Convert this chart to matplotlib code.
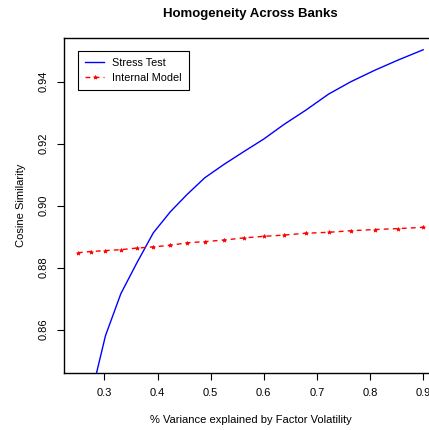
import matplotlib
matplotlib.use("Agg")
import matplotlib.pyplot as plt

plt.rcParams['font.family'] = ['Liberation Sans', 'DejaVu Sans']

# data
var_explained = [0.25, 0.274, 0.302, 0.331, 0.361, 0.392, 0.424, 0.455, 0.489, 0.525,
                 0.563, 0.6, 0.638, 0.679, 0.722, 0.764, 0.809, 0.853, 0.9]
stress_test = [0.812, 0.838, 0.858, 0.8716, 0.8815, 0.8912, 0.8980, 0.9035, 0.9090, 0.9133,
               0.9175, 0.9215, 0.9262, 0.9308, 0.9360, 0.9400, 0.9437, 0.9470, 0.9503]
internal_model = [0.8848, 0.8852, 0.8855, 0.8858, 0.8863, 0.8867, 0.8872, 0.8880, 0.8884, 0.8889,
                  0.8896, 0.8901, 0.8905, 0.8911, 0.8914, 0.8919, 0.8923, 0.8926, 0.8930]
x_ticks = [0.3, 0.4, 0.5, 0.6, 0.7, 0.8, 0.9]
y_ticks = [0.86, 0.88, 0.90, 0.92, 0.94]

W, H = 429, 430
fig = plt.figure(figsize=(W / 100, H / 100), dpi=100)
# plot region runs past the right edge, as in the reference
ax = fig.add_axes([64 / W, 57 / H, (437 - 64) / W, (373 - 38.3) / H])

ax.plot(var_explained, stress_test, color='blue', lw=1, label='Stress Test')
ax.plot(var_explained, internal_model, color='red', lw=1, ls=(0, (3.5, 3)),
        marker='*', markersize=3, markeredgewidth=0.5, label='Internal Model')

ax.set_xlim(0.224, 0.926)
ax.set_ylim(0.846, 0.954)
ax.set_xticks(x_ticks)
ax.set_xticklabels([f"{v:.1f}" for v in x_ticks])
ax.set_yticks(y_ticks)
ax.set_yticklabels([f"{v:.2f}" for v in y_ticks], rotation=90, va='center')
ax.tick_params(direction='out', length=5, width=0.8, labelsize=8, pad=6)

for s in ax.spines.values():
    s.set_linewidth(1)

ax.set_title('Homogeneity Across Banks', fontsize=9.5, fontweight='bold', pad=15)
ax.set_xlabel('% Variance explained by Factor Volatility', fontsize=8, labelpad=12)
ax.set_ylabel('Cosine Similarity', fontsize=8, labelpad=9)

leg = ax.legend(loc='upper left', bbox_to_anchor=((78.3 - 64) / (437 - 64), 1 - (50.7 - 38.3) / (373 - 38.3)),
                fontsize=7.8, fancybox=False, framealpha=1, edgecolor='black',
                handlelength=1.7, handletextpad=0.8, borderaxespad=0,
                borderpad=0.65, labelspacing=0.5)
leg.get_frame().set_linewidth(0.8)

fig.savefig('out.png', dpi=100)
